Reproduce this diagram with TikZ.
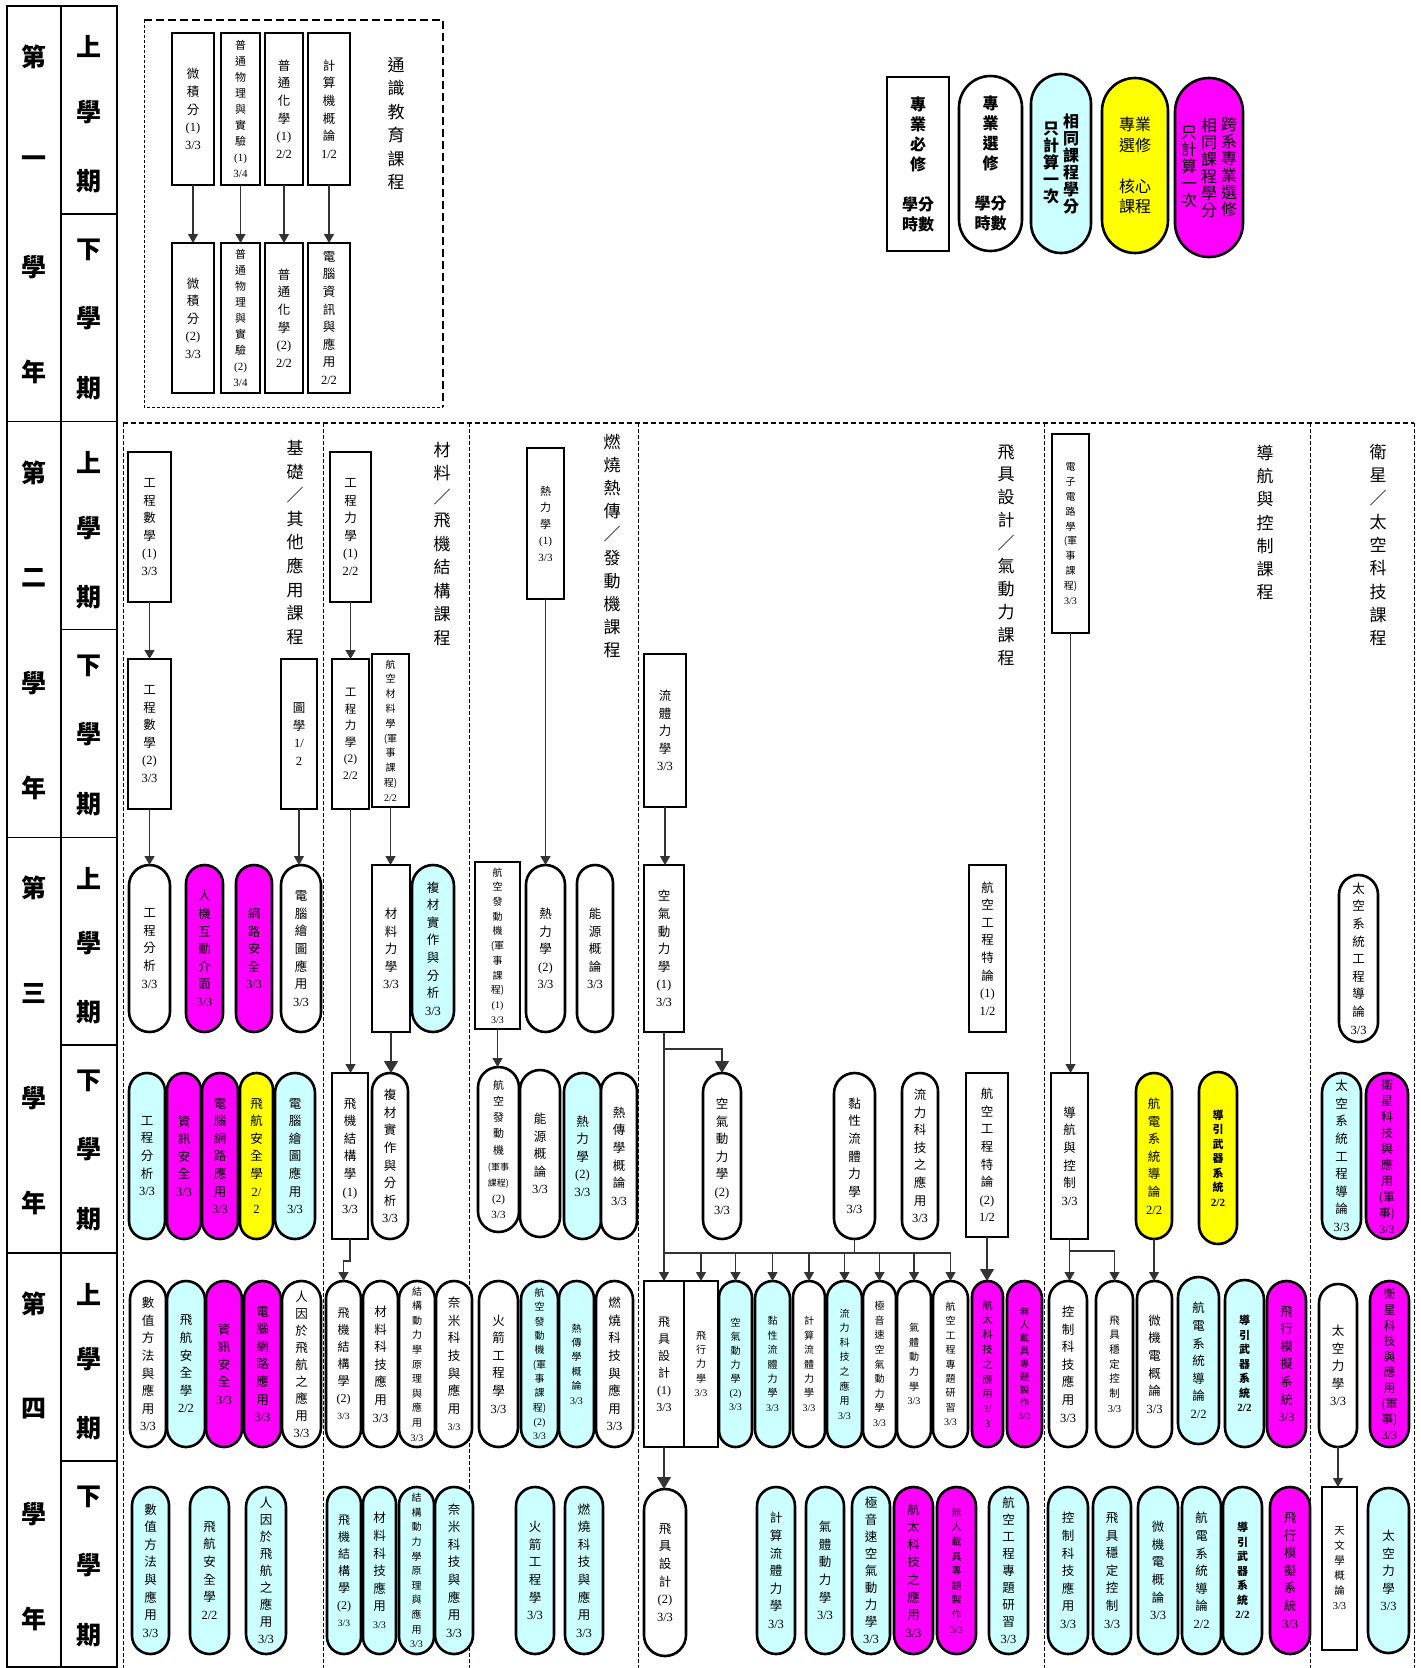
\documentclass[tikz,border=0pt]{standalone}
\usepackage{fontspec}
\setmainfont{Liberation Serif}
\newfontfamily\cjk{Noto Sans CJK TC}
\usetikzlibrary{arrows.meta}
\definecolor{cy}{HTML}{CCFFFF}
\definecolor{mg}{HTML}{FF00FF}
\definecolor{yl}{HTML}{FFFF00}
\makeatletter
\newcommand\fs[2]{\fontsize{#1}{#2}\selectfont}
\newcommand\fA{\fs{12.5}{17.6}}
\newcommand\vt[3][\fA]{\vtop{#1\cjk\@tfor\vt@x:=#2\do{\hbox to0pt{\hss\vt@x\hss}}\rmfamily\@tfor\vt@x:=#3\do{\hbox to0pt{\hss\vt@x\hss}}}}
\makeatother
\tikzset{
 rectbox/.style={draw, line width=2.6pt, fill=white, inner sep=0pt, outer sep=0pt},
 stadbox/.style={draw, line width=2.6pt, inner sep=0pt, outer sep=0pt},
 conn/.style={draw=black!80, line width=1.1pt},
 arr/.style={conn, -{Triangle[width=10pt,length=9pt]}},
 bigarr/.style={conn, -{Triangle[width=14pt,length=12pt]}},
 ylab/.style={font=\fs{25}{25}\cjk\bfseries, inner sep=0pt},
 lab/.style={inner sep=0pt},
 divline/.style={line width=1pt, dash pattern=on 4pt off 2pt},
}
\newcommand\crect[6]{\node[rectbox,minimum width={#3-#2},minimum height={#5-#4}] (#1) at ({(#2+#3)/2},{(#4+#5)/2}) {#6};}
\newcommand\cstad[7]{\node[stadbox,fill=#2,rounded corners={(#4-#3)/2},minimum width={#4-#3},minimum height={#6-#5}] (#1) at ({(#3+#4)/2},{(#5+#6)/2}) {#7};}
\begin{document}
\begin{tikzpicture}[x=1pt,y=-1pt]
\useasboundingbox (0,0) rectangle (1421,1668);
\fill[white] (0,0) rectangle (1421,1668);

% ---------- left table ----------
\draw[line width=1.6pt] (7,6) rectangle (117,1667);
\draw[line width=1.6pt] (61,6) -- (61,1667);
\foreach \k in {1,2,3} \draw[line width=1.6pt] (7,{6+\k*415.67}) -- (117,{6+\k*415.67});
\foreach \k in {0,1,2,3} \draw[line width=1.6pt] (61,{6+(\k+0.5)*415.67}) -- (117,{6+(\k+0.5)*415.67});
\foreach \n/\c in {1/一,2/二,3/三,4/四}{
 \pgfmathsetmacro\yt{6+(\n-1)*415.67}
 \node[ylab] (yr\n-1) at (34,\yt+51) {第};
 \node[ylab] (yr\n-2) at (34,\yt+156) {\c};
 \node[ylab] (yr\n-3) at (34,\yt+261) {學};
 \node[ylab] (yr\n-4) at (34,\yt+366) {年};
 \node[ylab] (su\n-1) at (89,\yt+41) {上};
 \node[ylab] (su\n-2) at (89,\yt+106) {學};
 \node[ylab] (su\n-3) at (89,\yt+175) {期};
 \node[ylab] (sd\n-1) at (89,\yt+208+36) {下};
 \node[ylab] (sd\n-2) at (89,\yt+208+104) {學};
 \node[ylab] (sd\n-3) at (89,\yt+208+174) {期};
}

% ---------- dashed frames ----------
\draw[line width=1.2pt, dash pattern=on 8pt off 4pt] (144,20) -- (443,20) -- (443,407);
\draw[line width=0.9pt, dash pattern=on 3pt off 2pt] (144,20) -- (144,407) -- (443,407);
\draw[line width=1.1pt, dash pattern=on 5pt off 3pt] (123,423) -- (1414,423);
\foreach \xx in {123,323.5,469,638.5,1044,1310,1414} \draw[divline] (\xx,423) -- (\xx,1668);

% ---------- labels ----------
\node[lab] (labG) at (396,123.5) {\vt[\fs{17}{23.4}]{通識教育課程}{}};
\node[lab] (labA) at (295,542.5) {\vt[\fs{17}{23.6}]{基礎／其他應用課程}{}};
\node[lab] (labB) at (442,544) {\vt[\fs{17}{23.5}]{材料／飛機結構課程}{}};
\node[lab] (labC) at (612,546) {\vt[\fs{17}{23.1}]{燃燒熱傳／發動機課程}{}};
\node[lab] (labD) at (1006,555) {\vt[\fs{17}{22.9}]{飛具設計／氣動力課程}{}};
\node[lab] (labE) at (1265,522.5) {\vt[\fs{17}{23.2}]{導航與控制課程}{}};
\node[lab] (labF) at (1378,545) {\vt[\fs{17}{23.3}]{衛星／太空科技課程}{}};

% ---------- legend ----------
\crect{L1}{887}{949}{77}{251}{\vt[\fs{16}{20}\bfseries]{專業必修{}{學分}{時數}}{}}
\cstad{L2}{white}{959}{1022}{76}{251}{\vt[\fs{16}{20}\bfseries]{專業選修{}{學分}{時數}}{}}
\cstad{L3}{cy}{1031}{1091}{74}{253}{\hbox{$\vcenter{\vt[\fs{16}{17}\bfseries]{只計算一次}{}}$\hskip20pt$\vcenter{\vt[\fs{16}{17}\bfseries]{相同課程學分}{}}$}}
\cstad{L4}{yl}{1102}{1168}{78}{253}{\vt[\fs{16}{20.5}]{{專業}{選修}{}{核心}{課程}}{}}
\cstad{L5}{mg}{1175}{1243}{78}{257}{\hbox{$\vcenter{\vt[\fs{16}{17}]{只計算一次}{}}$\hskip20pt$\vcenter{\vt[\fs{16}{17}]{相同課程學分}{}}$\hskip20pt$\vcenter{\vt[\fs{16}{17}]{跨系專業選修}{}}$}}

% ---------- year 1 ----------
\crect{g1}{172}{214}{33}{185}{\vt{微積分}{{(1)}{3/3}}}
\crect{g2}{221}{260}{33}{185}{\vt[\fs{11}{16}]{普通物理與實驗}{{(1)}{3/4}}}
\crect{g3}{265}{303}{33}{185}{\vt{普通化學}{{(1)}{2/2}}}
\crect{g4}{308}{350}{33}{185}{\vt{計算機概論}{{1/2}}}
\crect{g5}{172}{214}{243}{393}{\vt{微積分}{{(2)}{3/3}}}
\crect{g6}{221}{260}{243}{393}{\vt[\fs{11}{16}]{普通物理與實驗}{{(2)}{3/4}}}
\crect{g7}{265}{303}{243}{393}{\vt{普通化學}{{(2)}{2/2}}}
\crect{g8}{308}{350}{243}{393}{\vt{電腦資訊與應用}{{2/2}}}

% ---------- year 2 ----------
\crect{a1}{128}{171}{452}{602}{\vt{工程數學}{{(1)}{3/3}}}
\crect{a2}{128}{171}{659}{809}{\vt{工程數學}{{(2)}{3/3}}}
\crect{a3}{281}{317}{659}{809}{\vt{圖學}{{1/}{2}}}
\crect{b1}{330}{371}{452}{602}{\vt{工程力學}{{(1)}{2/2}}}
\crect{b2}{332}{369}{659}{809}{\vt[\fs{11.5}{16.5}]{工程力學}{{(2)}{2/2}}}
\crect{b3}{372}{409}{654}{807}{\vt[\fs{10}{14.8}]{航空材料學{(軍}事課{程)}}{{2/2}}}
\crect{c1}{527}{564}{448}{599}{\vt[\fs{11}{16.5}]{熱力學}{{(1)}{3/3}}}
\crect{d1}{644}{686}{654}{807}{\vt{流體力學}{{3/3}}}
\crect{e1}{1052}{1089}{434}{633}{\vt[\fs{10}{14.8}]{電子電路學{(軍}事課{程)}}{{3/3}}}

% ---------- year 3 upper ----------
\cstad{a4}{white}{129}{170}{865}{1032}{\vt{工程分析}{{3/3}}}
\cstad{a5}{mg}{186}{223}{865}{1032}{\vt{人機互動介面}{{3/3}}}
\cstad{a6}{mg}{236}{272}{865}{1032}{\vt{網路安全}{{3/3}}}
\cstad{a7}{white}{281}{321}{865}{1032}{\vt{電腦繪圖應用}{{3/3}}}
\crect{b4}{372}{410}{865}{1032}{\vt{材料力學}{{3/3}}}
\cstad{b5}{cy}{412}{454}{865}{1032}{\vt{複材實作與分析}{{3/3}}}
\crect{c2}{475}{520}{862}{1029}{\vt[\fs{10}{14.7}]{航空發動機{(軍}事課{程)}}{{(1)}{3/3}}}
\cstad{c3}{white}{526}{565}{865}{1032}{\vt{熱力學}{{(2)}{3/3}}}
\cstad{c4}{white}{577}{613}{865}{1032}{\vt{能源概論}{{3/3}}}
\crect{d2}{644}{684}{865}{1032}{\vt{空氣動力學}{{(1)}{3/3}}}
\crect{d3}{969}{1006}{865}{1032}{\vt{航空工程特論}{{(1)}{1/2}}}
\cstad{f1}{white}{1339}{1378}{875}{1042}{\vt{太空系統工程導論}{{3/3}}}

% ---------- year 3 lower ----------
\cstad{a8}{cy}{129}{165}{1073}{1239}{\vt{工程分析}{{3/3}}}
\cstad{a9}{mg}{167}{201}{1073}{1239}{\vt{資訊安全}{{3/3}}}
\cstad{a10}{mg}{202}{238}{1073}{1239}{\vt{電腦網路應用}{{3/3}}}
\cstad{a11}{yl}{240}{273}{1073}{1239}{\vt{飛航安全學}{{2/}{2}}}
\cstad{a12}{cy}{275}{315}{1073}{1239}{\vt{電腦繪圖應用}{{3/3}}}
\crect{b6}{332}{368}{1073}{1239}{\vt{飛機結構學}{{(1)}{3/3}}}
\cstad{b7}{white}{372}{408}{1073}{1239}{\vt{複材實作與分析}{{3/3}}}
\cstad{c5}{white}{478}{519}{1067}{1232}{\vt[\fs{11}{16.2}]{航空發動機{\fs{9}{16}(軍事}{\fs{9}{16}課程)}}{{(2)}{3/3}}}
\cstad{c6}{white}{520}{560}{1070}{1237}{\vt{能源概論}{{3/3}}}
\cstad{c7}{cy}{564}{601}{1073}{1239}{\vt{熱力學}{{(2)}{3/3}}}
\cstad{c8}{white}{601}{637}{1073}{1239}{\vt{熱傳學概論}{{3/3}}}
\cstad{d4}{white}{703}{741}{1073}{1239}{\vt{空氣動力學}{{(2)}{3/3}}}
\cstad{d5}{white}{834}{875}{1073}{1239}{\vt{黏性流體力學}{{3/3}}}
\cstad{d6}{white}{902}{938}{1073}{1239}{\vt{流力科技之應用}{{3/3}}}
\crect{d7}{966}{1008}{1073}{1237}{\vt{航空工程特論}{{(2)}{1/2}}}
\crect{e2}{1051}{1088}{1073}{1239}{\vt{導航與控制}{{3/3}}}
\cstad{e3}{yl}{1136}{1172}{1073}{1239}{\vt{航電系統導論}{{2/2}}}
\cstad{e4}{yl}{1199}{1237}{1072}{1244}{\vt[\fs{11}{14.5}\bfseries]{導引武器系統}{{2/2}}}
\cstad{f2}{cy}{1322}{1361}{1073}{1239}{\vt{太空系統工程導論}{{3/3}}}
\cstad{f3}{mg}{1366}{1408}{1073}{1239}{\vt[\fs{12}{16}]{衛星科技與應用{(軍}{事)}}{{3/3}}}

% ---------- year 4 upper ----------
\cstad{a13}{white}{130}{166}{1281}{1447}{\vt{數值方法與應用}{{3/3}}}
\cstad{a14}{cy}{167}{205}{1281}{1447}{\vt{飛航安全學}{{2/2}}}
\cstad{a15}{mg}{206}{242}{1281}{1447}{\vt{資訊安全}{{3/3}}}
\cstad{a16}{mg}{244}{281}{1281}{1447}{\vt{電腦網路應用}{{3/3}}}
\cstad{a17}{white}{282}{321}{1281}{1447}{\vt[\fs{12.5}{17}]{人因於飛航之應用}{{3/3}}}
\cstad{b8}{white}{326}{361}{1281}{1447}{\vt[\fs{12}{17}]{飛機結構學}{{(2)}{\fs{9.5}{17}3/3}}}
\cstad{b9}{white}{363}{398}{1281}{1447}{\vt{材料科技應用}{{3/3}}}
\cstad{b10}{white}{399}{435}{1281}{1447}{\vt[\fs{10}{14.6}]{結構動力學原理與應用}{{3/3}}}
\cstad{b11}{white}{436}{472}{1281}{1447}{\vt{奈米科技與應用}{{\fs{10}{17}3/3}}}
\cstad{c9}{white}{479}{518}{1281}{1447}{\vt{火箭工程學}{{3/3}}}
\cstad{c10}{cy}{521}{558}{1281}{1447}{\vt[\fs{10}{14.3}]{航空發動機{(軍}事課{程)}}{{(2)}{3/3}}}
\cstad{c11}{cy}{559}{594}{1281}{1447}{\vt[\fs{10}{14.4}]{熱傳學概論}{{3/3}}}
\cstad{c12}{white}{596}{633}{1281}{1447}{\vt{燃燒科技與應用}{{3/3}}}
\crect{d8}{644}{684}{1281}{1447}{\vt[\fs{12}{17}]{飛具設計}{{(1)}{3/3}}}
\crect{d9}{684}{718}{1281}{1447}{\vt[\fs{10}{14.4}]{飛行力學}{{3/3}}}
\cstad{d10}{cy}{719}{752}{1281}{1447}{\vt[\fs{10}{14}]{空氣動力學}{{(2)}{3/3}}}
\cstad{d11}{cy}{755}{790}{1281}{1447}{\vt[\fs{10}{14.4}]{黏性流體力學}{{3/3}}}
\cstad{d12}{white}{793}{825}{1281}{1447}{\vt[\fs{10}{14.4}]{計算流體力學}{{3/3}}}
\cstad{d13}{cy}{827}{862}{1281}{1447}{\vt[\fs{10}{14.6}]{流力科技之應用}{{3/3}}}
\cstad{d14}{white}{863}{896}{1281}{1447}{\vt[\fs{10}{14.6}]{極音速空氣動力學}{{3/3}}}
\cstad{d15}{white}{897}{931}{1281}{1447}{\vt[\fs{10}{14.7}]{氣體動力學}{{3/3}}}
\cstad{d16}{white}{933}{968}{1281}{1447}{\vt[\fs{10}{14.4}]{航空工程專題研習}{{3/3}}}
\cstad{d17}{mg}{972}{1003}{1281}{1447}{\vt[\fs{10.5}{14.8}]{航太科技之應用}{{3/}{3}}}
\cstad{d18}{mg}{1007}{1042}{1281}{1447}{\vt[\fs{9.5}{13}]{無人載具專題製作}{{3/3}}}
\cstad{e5}{white}{1049}{1087}{1281}{1447}{\vt{控制科技應用}{{3/3}}}
\cstad{e6}{white}{1096}{1133}{1281}{1447}{\vt[\fs{10.5}{14.7}]{飛具穩定控制}{{3/3}}}
\cstad{e7}{white}{1137}{1172}{1281}{1447}{\vt{微機電概論}{{3/3}}}
\cstad{e8}{cy}{1178}{1219}{1277}{1444}{\vt{航電系統導論}{{2/2}}}
\cstad{e9}{cy}{1225}{1264}{1280}{1447}{\vt[\fs{11}{14.5}\bfseries]{導引武器系統}{{2/2}}}
\cstad{e10}{mg}{1267}{1306}{1281}{1447}{\vt{飛行模擬系統}{{3/3}}}
\cstad{f4}{white}{1319}{1357}{1284}{1447}{\vt{太空力學}{{3/3}}}
\cstad{f5}{mg}{1370}{1409}{1281}{1447}{\vt[\fs{12}{15.6}]{衛星科技與應用{(軍}{事)}}{{3/3}}}

% ---------- year 4 lower ----------
\cstad{a18}{cy}{132}{169}{1487}{1654}{\vt{數值方法與應用}{{3/3}}}
\cstad{a19}{cy}{190}{229}{1487}{1654}{\vt{飛航安全學}{{2/2}}}
\cstad{a20}{cy}{246}{286}{1487}{1654}{\vt[\fs{12.5}{17}]{人因於飛航之應用}{{3/3}}}
\cstad{b12}{cy}{327}{361}{1487}{1654}{\vt[\fs{12}{17}]{飛機結構學}{{(2)}{\fs{9.5}{17}3/3}}}
\cstad{b13}{cy}{363}{396}{1487}{1654}{\vt{材料科技應用}{{\fs{10}{17}3/3}}}
\cstad{b14}{cy}{399}{434}{1487}{1654}{\vt[\fs{10}{14.6}]{結構動力學原理與應用}{{3/3}}}
\cstad{b15}{cy}{435}{473}{1487}{1654}{\vt{奈米科技與應用}{{3/3}}}
\cstad{c13}{cy}{516}{554}{1487}{1654}{\vt{火箭工程學}{{3/3}}}
\cstad{c14}{cy}{565}{603}{1487}{1654}{\vt{燃燒科技與應用}{{3/3}}}
\cstad{d19}{white}{644}{686}{1489}{1656}{\vt{飛具設計}{{(2)}{3/3}}}
\cstad{d20}{cy}{757}{795}{1487}{1654}{\vt{計算流體力學}{{3/3}}}
\cstad{d21}{cy}{806}{844}{1487}{1654}{\vt{氣體動力學}{{3/3}}}
\cstad{d22}{cy}{852}{890}{1487}{1654}{\vt[\fs{12.5}{17}]{極音速空氣動力學}{{3/3}}}
\cstad{d23}{mg}{894}{933}{1487}{1654}{\vt{航太科技之應用}{{3/3}}}
\cstad{d24}{mg}{937}{976}{1487}{1654}{\vt[\fs{10}{14.6}]{無人載具專題製作}{{3/3}}}
\cstad{d25}{cy}{989}{1028}{1487}{1654}{\vt[\fs{12.5}{17}]{航空工程專題研習}{{3/3}}}
\cstad{e11}{cy}{1048}{1088}{1487}{1654}{\vt{控制科技應用}{{3/3}}}
\cstad{e12}{cy}{1093}{1131}{1487}{1654}{\vt{飛具穩定控制}{{3/3}}}
\cstad{e13}{cy}{1138}{1178}{1487}{1654}{\vt{微機電概論}{{3/3}}}
\cstad{e14}{cy}{1182}{1221}{1487}{1654}{\vt{航電系統導論}{{2/2}}}
\cstad{e15}{cy}{1223}{1262}{1487}{1654}{\vt[\fs{11}{14.5}\bfseries]{導引武器系統}{{2/2}}}
\cstad{e16}{mg}{1270}{1310}{1487}{1654}{\vt{飛行模擬系統}{{3/3}}}
\crect{f6}{1322}{1357}{1487}{1650}{\vt[\fs{10.5}{15}]{天文學概論}{{3/3}}}
\cstad{f7}{cy}{1368}{1409}{1488}{1653}{\vt{太空力學}{{3/3}}}

% ---------- connectors ----------
\foreach \u/\v in {g1/g5,g2/g6,g3/g7,g4/g8,a1/a2,a2/a4,a3/a7,b1/b2,b2/b6,b3/b4,c1/c3,c2/c5,d1/d2,e1/e2,e2/e5,e3/e7,f4/f6}
  \draw[arr] (\u.south) -- (\u.south |- \v.north);
\draw[bigarr] (b4.south) -- (b4.south |- b7.north);
\draw[bigarr] (d7.south) -- (d7.south |- d17.north);
\draw[bigarr] (d8.south) -- (d8.south |- d19.north);
\coordinate (d2j) at (664,1049);
\coordinate (bus) at (664,1253);
\draw[conn] (d2.south) -- (bus);
\draw[bigarr] (d2j) -| (d4.north);
\draw[conn] (bus) -- (bus -| d16.north);
\draw[conn] (d5.south) -- (d5.south |- bus);
\foreach \tn in {d8,d9,d10,d11,d12,d13,d14,d15,d16}
  \draw[arr] (\tn.north |- bus) -- (\tn.north);
\coordinate (ej) at (0,1251);
\draw[arr] (e2.south |- ej) -| (e6.north);
\coordinate (bj) at (0,1261);
\draw[arr] (b6.south) -- (b6.south |- bj) -| (b8.north);
\end{tikzpicture}
\end{document}
